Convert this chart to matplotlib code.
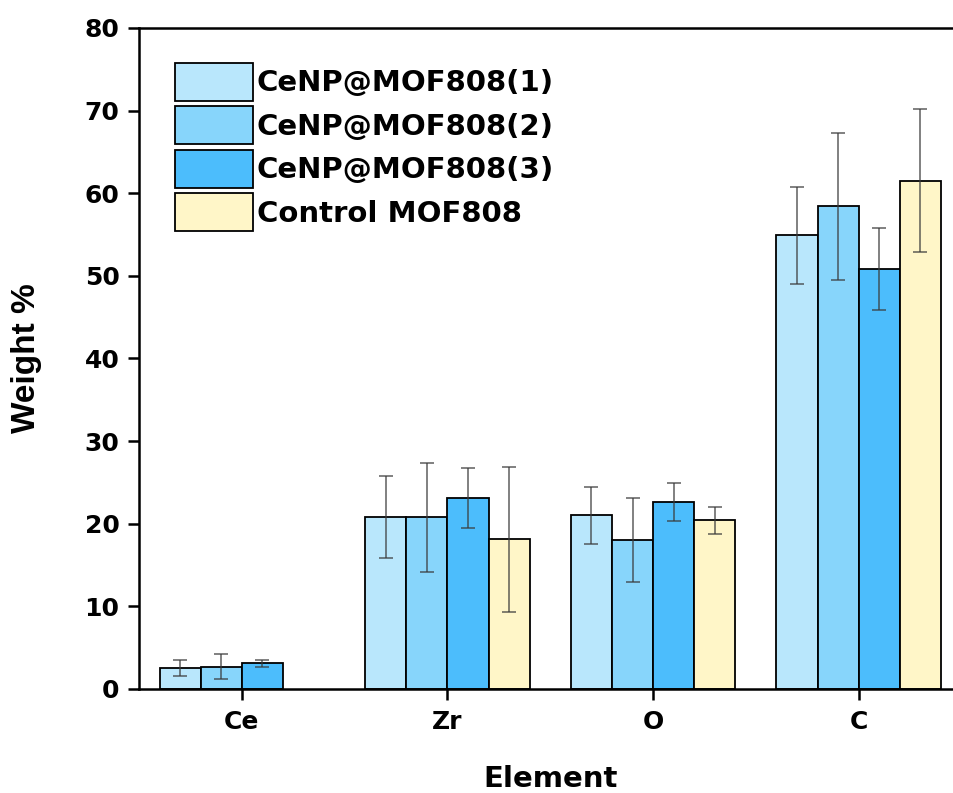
import numpy as np
import matplotlib
matplotlib.use("Agg")
import matplotlib.pyplot as plt

plt.rcParams['font.family'] = ['DejaVu Sans']
plt.rcParams['font.weight'] = 'bold'

elements = ["Ce", "Zr", "O", "C"]
series_names = ["CeNP@MOF808(1)", "CeNP@MOF808(2)", "CeNP@MOF808(3)", "Control MOF808"]
s1 = [2.5, 20.8, 21.0, 54.9]
s2 = [2.7, 20.8, 18.0, 58.4]
s3 = [3.1, 23.1, 22.6, 50.8]
s4 = [np.nan, 18.1, 20.4, 61.5]
e1 = [0.95, 5.0, 3.4, 5.85]
e2 = [1.5, 6.6, 5.1, 8.9]
e3 = [0.45, 3.6, 2.3, 4.95]
e4 = [np.nan, 8.8, 1.65, 8.65]
colors = ["#B9E7FC", "#87D5FB", "#4CBDFC", "#FFF6C8"]
yticks = [0, 10, 20, 30, 40, 50, 60, 70, 80]

values = [s1, s2, s3, s4]
errors = [e1, e2, e3, e4]

fig = plt.figure(figsize=(9.54, 7.93), dpi=100)
ax = fig.add_axes([0.1457, 0.1312, 1.0079 - 0.1457, 0.9647 - 0.1312])

x = np.arange(len(elements))
width = 0.2
for i, (vals, errs, c, name) in enumerate(zip(values, errors, colors, series_names)):
    pos = x + (i - 1.5) * width
    ax.bar(pos, vals, width=width, color=c, edgecolor='black', linewidth=1.3,
           label=name, zorder=2)
    ax.errorbar(pos, vals, yerr=errs, fmt='none', ecolor='#3a3a3a', alpha=0.75,
                elinewidth=1.2, capsize=4.7, capthick=1.2, zorder=3)

ax.set_xlim(-0.5, 3.5)
ax.set_ylim(0, 80)
ax.set_xticks(x)
ax.set_xticklabels(elements)
ax.set_yticks(yticks)
ax.tick_params(axis='both', direction='out', length=8, width=1.8)
ax.tick_params(axis='y', pad=6)
ax.tick_params(axis='x', pad=7)
for lab in ax.get_xticklabels() + ax.get_yticklabels():
    lab.set_fontweight('bold')
    lab.set_fontsize(18)
for sp in ['left', 'bottom', 'top']:
    ax.spines[sp].set_linewidth(1.8)
ax.spines['right'].set_visible(False)

ax.set_xlabel("Element", fontsize=21, fontweight='bold', va='baseline')
ax.xaxis.set_label_coords(0.5, -0.148)
ax.set_ylabel("Weight %", fontsize=24, fontweight='bold',
              family=['Liberation Sans', 'DejaVu Sans'])
ax.yaxis.set_label_coords(-0.118, 0.5)

leg = ax.legend(loc='upper left', bbox_to_anchor=(0.0438, 0.947), frameon=False,
                prop={'size': 21, 'weight': 'bold'}, handlelength=2.67,
                handleheight=1.62, labelspacing=0.19, handletextpad=0.14,
                borderaxespad=0.0, borderpad=0.0)

fig.savefig("out.png", dpi=100)
